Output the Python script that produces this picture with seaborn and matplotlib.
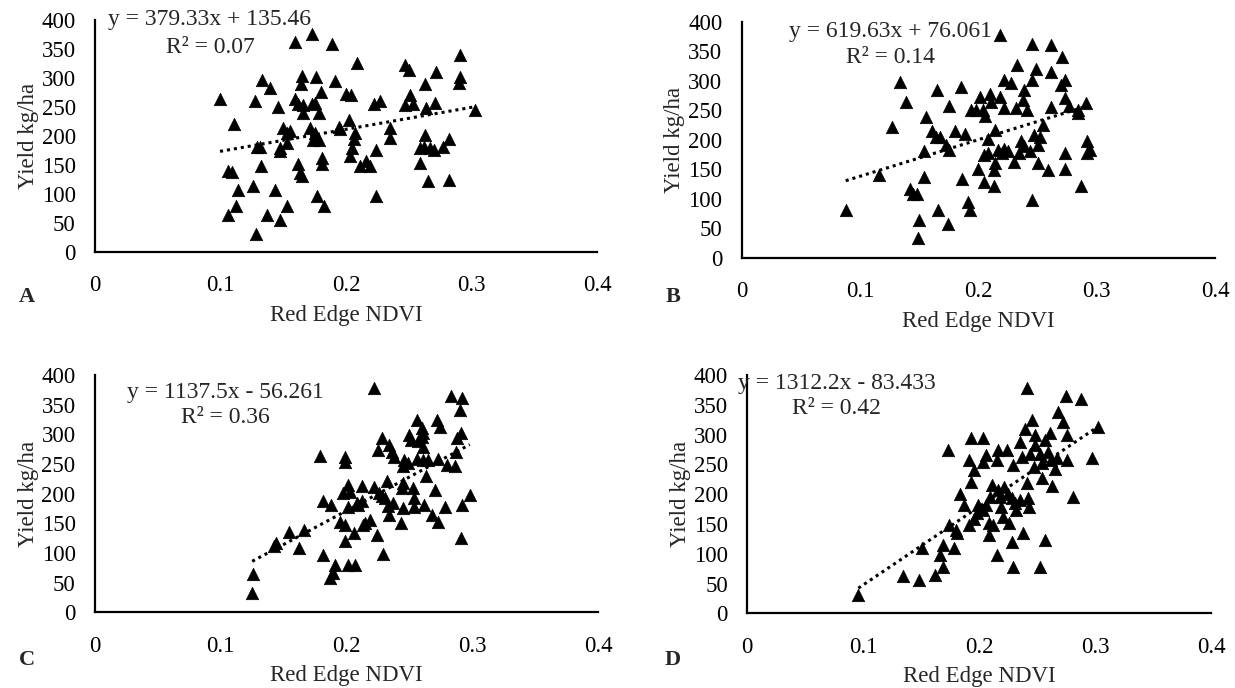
import numpy as np
import pandas as pd
import matplotlib
matplotlib.use("Agg")
import matplotlib.pyplot as plt
import seaborn as sns

# Panel A: Red Edge NDVI vs yield
ndvi_a = [0.0995, 0.111, 0.106, 0.109, 0.114, 0.112, 0.106, 0.127, 0.133, 0.139, 0.146, 0.129, 0.131,
          0.132, 0.126, 0.143, 0.137, 0.147, 0.128, 0.153, 0.159, 0.173, 0.189, 0.150, 0.153, 0.155,
          0.147, 0.147, 0.153, 0.162, 0.163, 0.165, 0.165, 0.164, 0.176, 0.159, 0.162, 0.166, 0.166,
          0.173, 0.175, 0.178, 0.180, 0.191, 0.171, 0.175, 0.174, 0.178, 0.181, 0.181, 0.177, 0.182,
          0.194, 0.195, 0.200, 0.204, 0.202, 0.207, 0.206, 0.205, 0.203, 0.209, 0.211, 0.216, 0.219,
          0.224, 0.224, 0.222, 0.227, 0.235, 0.235, 0.247, 0.250, 0.247, 0.251, 0.253, 0.259, 0.263,
          0.264, 0.263, 0.271, 0.272, 0.262, 0.267, 0.270, 0.259, 0.265, 0.277, 0.282, 0.282, 0.291,
          0.291, 0.290, 0.303]
yield_a = [263, 221, 140, 137, 107, 79, 63, 261, 297, 283, 249, 180, 180, 148, 114, 107, 64, 55, 30, 79,
           362, 376, 359, 214, 205, 208, 179, 174, 188, 151, 136, 130, 303, 289, 301, 263, 255, 240, 254,
           255, 257, 240, 276, 295, 213, 205, 192, 192, 162, 152, 96, 79, 215, 211, 272, 271, 228, 205,
           194, 179, 165, 326, 148, 156, 148, 176, 97, 255, 261, 214, 197, 323, 313, 254, 271, 255, 179,
           202, 248, 289, 257, 310, 180, 179, 176, 153, 122, 180, 195, 123, 339, 301, 291, 244]

# Panel B
ndvi_b = [0.0879, 0.116, 0.127, 0.134, 0.139, 0.142, 0.145, 0.148, 0.150, 0.149, 0.154, 0.154, 0.156,
          0.161, 0.164, 0.168, 0.165, 0.166, 0.174, 0.175, 0.173, 0.175, 0.180, 0.185, 0.189, 0.186,
          0.191, 0.193, 0.194, 0.198, 0.200, 0.201, 0.205, 0.205, 0.204, 0.206, 0.208, 0.210, 0.211,
          0.213, 0.213, 0.214, 0.214, 0.218, 0.220, 0.222, 0.222, 0.222, 0.228, 0.230, 0.232, 0.233,
          0.234, 0.236, 0.238, 0.239, 0.241, 0.244, 0.245, 0.245, 0.245, 0.247, 0.249, 0.250, 0.252,
          0.255, 0.259, 0.261, 0.261, 0.261, 0.271, 0.270, 0.273, 0.273, 0.273, 0.273, 0.277, 0.284,
          0.287, 0.291, 0.292, 0.292, 0.294, 0.218, 0.208, 0.217, 0.225, 0.239, 0.250, 0.284]
yield_b = [80, 140, 221, 297, 264, 116, 108, 108, 64, 33, 137, 180, 239, 214, 205, 205, 284, 80, 57, 257,
           191, 182, 215, 290, 210, 133, 95, 80, 251, 250, 151, 273, 129, 174, 250, 240, 202, 277, 264,
           149, 121, 216, 160, 273, 177, 253, 185, 301, 296, 163, 253, 327, 178, 197, 267, 284, 250, 180,
           98, 363, 301, 208, 319, 161, 205, 225, 149, 360, 314, 255, 340, 293, 302, 270, 178, 151, 257,
           245, 121, 262, 197, 178, 183, 377, 177, 183, 180, 189, 191, 251]

# Panel C
ndvi_c = [0.125, 0.126, 0.142, 0.144, 0.154, 0.162, 0.166, 0.179, 0.181, 0.188, 0.181, 0.187, 0.189,
          0.191, 0.195, 0.197, 0.199, 0.199, 0.201, 0.203, 0.201, 0.199, 0.199, 0.201, 0.207, 0.206,
          0.209, 0.212, 0.212, 0.215, 0.219, 0.222, 0.222, 0.224, 0.225, 0.228, 0.226, 0.229, 0.231,
          0.234, 0.236, 0.233, 0.234, 0.238, 0.237, 0.243, 0.245, 0.246, 0.245, 0.245, 0.249, 0.250,
          0.251, 0.253, 0.254, 0.256, 0.256, 0.260, 0.260, 0.261, 0.261, 0.262, 0.263, 0.265, 0.268,
          0.270, 0.272, 0.274, 0.273, 0.273, 0.278, 0.280, 0.283, 0.286, 0.287, 0.288, 0.290, 0.292,
          0.292, 0.291, 0.298, 0.291, 0.232, 0.244, 0.257, 0.208, 0.213, 0.228, 0.254, 0.261]
yield_c = [33, 65, 111, 116, 136, 108, 139, 264, 188, 181, 97, 57, 66, 80, 153, 201, 262, 254, 215, 203,
           178, 147, 121, 80, 80, 134, 181, 213, 187, 150, 156, 211, 378, 130, 274, 293, 201, 99, 192, 282,
           271, 179, 164, 262, 184, 150, 246, 257, 218, 175, 251, 299, 290, 209, 192, 324, 259, 310, 296,
           279, 257, 181, 229, 257, 164, 206, 324, 313, 153, 259, 178, 248, 364, 246, 271, 293, 341, 361,
           181, 125, 198, 302, 222, 209, 288, 184, 147, 196, 178, 302]

# Panel D
ndvi_d = [0.0957, 0.134, 0.148, 0.162, 0.169, 0.166, 0.169, 0.151, 0.173, 0.178, 0.174, 0.180, 0.181,
          0.183, 0.187, 0.191, 0.191, 0.193, 0.195, 0.193, 0.195, 0.199, 0.203, 0.203, 0.206, 0.208,
          0.206, 0.208, 0.212, 0.215, 0.215, 0.216, 0.211, 0.216, 0.218, 0.219, 0.220, 0.224, 0.226,
          0.228, 0.229, 0.229, 0.228, 0.231, 0.235, 0.235, 0.237, 0.238, 0.241, 0.239, 0.241, 0.242,
          0.243, 0.244, 0.245, 0.247, 0.248, 0.248, 0.252, 0.252, 0.254, 0.254, 0.257, 0.257, 0.259,
          0.261, 0.263, 0.262, 0.265, 0.267, 0.268, 0.272, 0.275, 0.276, 0.276, 0.281, 0.288, 0.297,
          0.198, 0.209, 0.221, 0.203, 0.232, 0.225, 0.302]
yield_d = [31, 62, 56, 64, 78, 98, 115, 109, 274, 109, 148, 140, 134, 201, 182, 148, 258, 295, 240, 221,
           159, 182, 294, 254, 265, 131, 182, 151, 148, 98, 257, 274, 215, 207, 196, 179, 162, 274, 151,
           120, 249, 78, 193, 185, 288, 190, 263, 134, 378, 309, 218, 193, 179, 268, 324, 246, 299, 282,
           78, 268, 252, 227, 123, 291, 271, 302, 213, 257, 243, 260, 338, 321, 364, 299, 257, 196, 359,
           260, 168, 196, 212, 173, 173, 201, 312]

# Fitted linear trends (slope, intercept) and R² for each panel
slopes = [379.33, 619.63, 1137.5, 1312.2]
intercepts = [135.46, 76.061, -56.261, -83.433]
eq_labels = ["y = 379.33x + 135.46", "y = 619.63x + 76.061",
             "y = 1137.5x - 56.261", "y = 1312.2x - 83.433"]
r2_labels = ["R² = 0.07", "R² = 0.14", "R² = 0.36", "R² = 0.42"]
panel_letters = ["A", "B", "C", "D"]

x_ticks = [0, 0.1, 0.2, 0.3, 0.4]
x_tick_labels = ["0", "0.1", "0.2", "0.3", "0.4"]
y_ticks = [0, 50, 100, 150, 200, 250, 300, 350, 400]

sns.set_style("white")
plt.rcParams['font.family'] = ['Liberation Serif', 'DejaVu Serif']

fig = plt.figure(figsize=(12.35, 6.88), dpi=100)
W, H = 1235.0, 688.0

# axes rectangles in pixels: left, top, right, bottom
rects = [(95.2, 20.0, 597.0, 251.7),
         (741.7, 21.7, 1215.0, 257.7),
         (95.0, 375.0, 598.0, 612.3),
         (747.3, 375.0, 1211.3, 613.3)]

# equation text anchors (x centre, y of line 1, y of line 2) in data units
eq_pos = [(0.0915, 400, 352), (0.126, 383, 340), (0.104, 371, 328), (0.077, 386, 344)]
letter_pos = [(27, 297), (673, 297), (27, 660), (673, 660)]

data = [(ndvi_a, yield_a), (ndvi_b, yield_b), (ndvi_c, yield_c), (ndvi_d, yield_d)]

for i, (xs, ys) in enumerate(data):
    l, t, r, b = rects[i]
    ax = fig.add_axes([l / W, 1 - b / H, (r - l) / W, (b - t) / H])
    df = pd.DataFrame({"ndvi": xs, "yield": ys})
    sns.scatterplot(data=df, x="ndvi", y="yield", ax=ax, marker="^", color="black",
                    edgecolor="black", s=80, linewidth=0.5, zorder=3)
    xf = np.array([min(xs), max(xs)])
    ax.plot(xf, slopes[i] * xf + intercepts[i], color="black", linestyle=(0, (1, 1.3)),
            linewidth=2.2, zorder=2)
    ax.set_xlim(0, 0.4)
    ax.set_ylim(0, 400)
    ax.set_xticks(x_ticks)
    ax.set_xticklabels(x_tick_labels)
    ax.set_yticks(y_ticks)
    ax.tick_params(axis="both", direction="in", length=5, width=1.3, labelsize=16.5,
                   colors="black", pad=14)
    ax.tick_params(axis="x", pad=17)
    for side in ["top", "right"]:
        ax.spines[side].set_visible(False)
    for side in ["left", "bottom"]:
        ax.spines[side].set_color("black")
        ax.spines[side].set_linewidth(1.6)
    ax.set_xlabel("Red Edge NDVI", fontsize=16.5, labelpad=6)
    ax.set_ylabel("Yield kg/ha", fontsize=16.5, labelpad=2)
    cx, y1, y2 = eq_pos[i]
    ax.text(cx, y1, eq_labels[i], ha="center", va="center", fontsize=17)
    ax.text(cx, y2, r2_labels[i], ha="center", va="center", fontsize=17)
    lx, ly = letter_pos[i]
    fig.text(lx / W, 1 - ly / H, panel_letters[i], ha="center", va="center",
             fontsize=16, fontweight="bold")

fig.savefig("out.png", dpi=100)
